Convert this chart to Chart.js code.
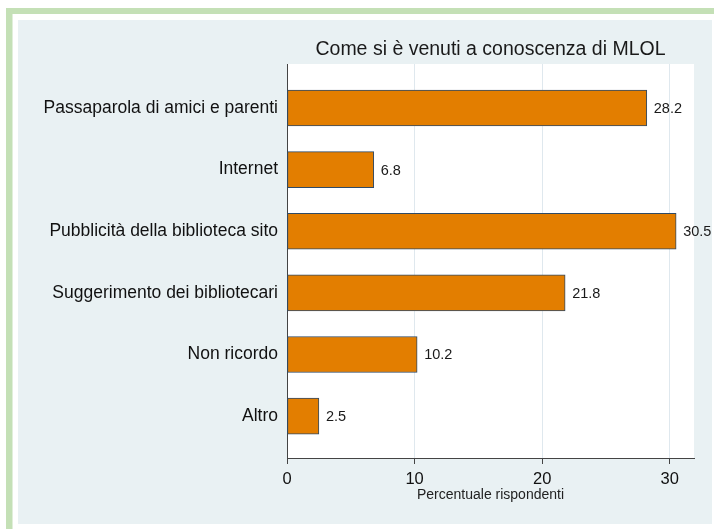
<!DOCTYPE html>
<html>
<head>
<meta charset="utf-8">
<script src="https://cdn.jsdelivr.net/npm/chart.js@4/dist/chart.umd.min.js"></script>
<style>
html,body{margin:0;padding:0;background:#fff;}
#wrap{width:714px;height:529px;}
</style>
</head>
<body>
<div id="wrap"><canvas id="c" width="714" height="529"></canvas></div>
<script>
const categories = [
  "Passaparola di amici e parenti",
  "Internet",
  "Pubblicità della biblioteca sito",
  "Suggerimento dei bibliotecari",
  "Non ricordo",
  "Altro"
];
const values = [28.2, 6.8, 30.5, 21.8, 10.2, 2.5];
const xTicks = [0, 10, 20, 30];
const chartTitle = "Come si è venuti a conoscenza di MLOL";
const xAxisTitle = "Percentuale rispondenti";

const FONT = "'Liberation Sans', Arial, sans-serif";

const bgPlugin = {
  id: 'bg',
  beforeDraw(chart) {
    const {ctx, chartArea: a} = chart;
    ctx.save();
    ctx.fillStyle = '#ffffff';
    ctx.fillRect(0, 0, 714, 529);
    ctx.fillStyle = '#c4e0b6';
    ctx.fillRect(6, 8, 6.5, 521);
    ctx.fillRect(6, 8, 708, 6);
    ctx.fillStyle = '#e9f1f3';
    ctx.fillRect(18, 20, 694, 504);
    ctx.fillStyle = '#ffffff';
    ctx.fillRect(a.left, a.top, a.right - a.left, a.bottom - a.top);
    ctx.restore();
  },
  afterDraw(chart) {
    const {ctx, chartArea: a} = chart;
    ctx.save();
    ctx.fillStyle = '#1a1a1a';
    ctx.font = "19.5px " + FONT;
    ctx.textAlign = 'center';
    ctx.textBaseline = 'middle';
    ctx.fillText(chartTitle, (a.left + a.right) / 2, 50);
    ctx.restore();
  }
};

const labelPlugin = {
  id: 'vlabels',
  afterDatasetsDraw(chart) {
    const {ctx} = chart;
    const meta = chart.getDatasetMeta(0);
    ctx.save();
    ctx.fillStyle = '#1a1a1a';
    ctx.font = "14.5px " + FONT;
    ctx.textAlign = 'left';
    ctx.textBaseline = 'middle';
    meta.data.forEach((el, i) => {
      ctx.fillText(values[i].toFixed(1), el.x + 7, el.y + 1);
    });
    ctx.restore();
  }
};

new Chart(document.getElementById('c'), {
  type: 'bar',
  data: {
    datasets: [{
      data: values.map((v, i) => ({x: v, y: i})),
      backgroundColor: '#e37e00',
      borderColor: '#2f4a66',
      borderWidth: 1,
      borderSkipped: false,
      barThickness: 36
    }]
  },
  options: {
    indexAxis: 'y',
    responsive: false,
    animation: false,
    devicePixelRatio: 1,
    layout: {padding: {top: 64, right: 20, left: 0, bottom: 0}},
    plugins: {legend: {display: false}, tooltip: {enabled: false}, title: {display: false}},
    scales: {
      x: {
        type: 'linear',
        min: 0,
        max: 31.9,
        afterBuildTicks(scale) { scale.ticks = xTicks.map(v => ({value: v})); },
        afterFit(scale) { scale.height = 71; },
        grid: {
          color: '#dfe8ee',
          lineWidth: 1,
          drawTicks: true,
          tickLength: 6,
          tickColor: '#444'
        },
        border: {display: true, color: '#444', width: 1},
        ticks: {
          color: '#111',
          font: {family: FONT, size: 16.5},
          padding: 6
        },
        title: {
          display: true,
          text: xAxisTitle,
          color: '#222',
          font: {family: FONT, size: 14},
          padding: {top: 0, bottom: 25}
        }
      },
      y: {
        type: 'linear',
        reverse: true,
        offset: false,
        min: -0.714,
        max: 5.68,
        afterBuildTicks(scale) { scale.ticks = categories.map((c, i) => ({value: i})); },
        afterFit(scale) { scale.width = 287; },
        grid: {display: false, drawTicks: false, offset: false},
        border: {display: true, color: '#444', width: 1},
        ticks: {
          color: '#111',
          font: {family: FONT, size: 17.5},
          padding: 9,
          callback: (v) => categories[v]
        }
      }
    }
  },
  plugins: [bgPlugin, labelPlugin]
});
</script>
</body>
</html>
